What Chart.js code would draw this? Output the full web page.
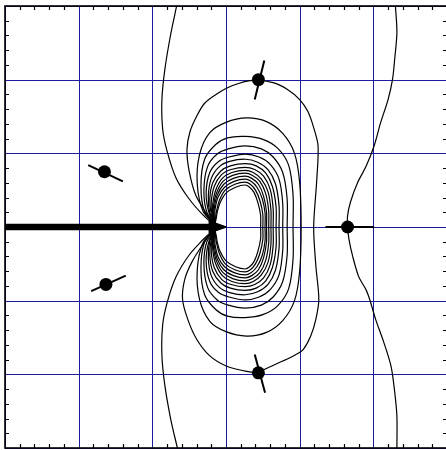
<!DOCTYPE html>
<html>
<head>
<meta charset="utf-8">
<script src="https://cdn.jsdelivr.net/npm/chart.js@4.4.1/dist/chart.umd.min.js"></script>
<style>
  html, body { margin: 0; padding: 0; background: #fff; overflow: hidden; }
  #wrap { width: 446px; height: 450px; }
  canvas { display: block; }
</style>
</head>
<body>
<div id="wrap"><canvas id="c" width="446" height="450"></canvas></div>
<script>
// Axis ticks (major grid every unit, minor ticks every 0.2)
const xTicks = [-3, -2, -1, 0, 1, 2, 3];
const yTicks = [-3, -2, -1, 0, 1, 2, 3];
const minorPerMajor = 5;

// Outer contour on the left, running from the top edge through the tip to the bottom edge
const contourOuterLeft = [
  [-0.67, 3.0], [-0.75, 2.62], [-0.83, 2.14], [-0.87, 1.73], [-0.86, 1.33], [-0.80, 1.03],
  [-0.68, 0.67], [-0.50, 0.38], [-0.31, 0.16], [-0.17, 0.03],
  [-0.17, -0.03], [-0.31, -0.17], [-0.50, -0.38], [-0.68, -0.68], [-0.80, -1.03],
  [-0.86, -1.33], [-0.87, -1.74], [-0.83, -2.15], [-0.75, -2.61], [-0.66, -3.0]
];

// Wavy contour on the right, passing through the right-hand dot
const contourOuterRight = [
  [2.30, 3.0], [2.32, 2.64], [2.29, 2.28], [2.26, 2.0], [2.20, 1.73], [2.10, 1.42],
  [2.01, 1.10], [1.90, 0.82], [1.79, 0.61], [1.69, 0.34], [1.65, 0.15], [1.65, 0],
  [1.67, -0.17], [1.72, -0.40], [1.80, -0.67], [1.90, -0.85], [1.95, -0.98], [2.03, -1.25],
  [2.14, -1.56], [2.24, -1.89], [2.29, -2.24], [2.32, -2.57], [2.32, -3.0]
];

// Loop through the upper and lower dots
const contourDotLoop = [
  [-0.17, 0.02], [-0.27, 0.19], [-0.41, 0.43], [-0.50, 0.76], [-0.53, 1.05], [-0.49, 1.29],
  [-0.40, 1.50], [-0.29, 1.68], [-0.12, 1.81], [0.09, 1.92], [0.36, 1.99], [0.64, 1.96],
  [0.83, 1.87], [1.00, 1.73], [1.11, 1.57], [1.19, 1.35], [1.25, 1.10], [1.23, 0.61],
  [1.19, 0.0], [1.22, -0.53], [1.26, -0.98], [1.22, -1.25], [1.15, -1.48], [1.05, -1.66],
  [0.95, -1.73], [0.77, -1.82], [0.59, -1.90], [0.43, -1.97], [0.28, -1.96], [0.01, -1.89],
  [-0.22, -1.75], [-0.40, -1.52], [-0.52, -1.25], [-0.59, -0.98], [-0.56, -0.71],
  [-0.46, -0.47], [-0.31, -0.23], [-0.17, -0.03]
];

// Nested inner loops, outermost first
const contourInner2 = [
  [-0.15, 0.04], [-0.31, 0.21], [-0.39, 0.58], [-0.36, 0.98], [-0.22, 1.28], [0.0, 1.42], [0.28, 1.48],
  [0.55, 1.43], [0.77, 1.27], [0.93, 1.0], [1.0, 0.6], [1.02, 0],
  [1.0, -0.6], [0.93, -1.0], [0.77, -1.27], [0.55, -1.43], [0.28, -1.48], [0.0, -1.42],
  [-0.22, -1.28], [-0.36, -0.98], [-0.39, -0.58], [-0.31, -0.21], [-0.15, -0.04]
];
const contourInner3 = [
  [-0.15, 0.04], [-0.29, 0.20], [-0.34, 0.56], [-0.29, 0.92], [-0.14, 1.12], [0.02, 1.21], [0.26, 1.23],
  [0.50, 1.19], [0.70, 1.07], [0.85, 0.84], [0.91, 0.44], [0.91, 0],
  [0.91, -0.44], [0.85, -0.84], [0.70, -1.07], [0.50, -1.19], [0.26, -1.23], [0.02, -1.21],
  [-0.14, -1.12], [-0.29, -0.92], [-0.34, -0.56], [-0.29, -0.20], [-0.15, -0.04]
];
const contourInner4 = [
  [-0.15, 0.04], [-0.26, 0.20], [-0.30, 0.50], [-0.25, 0.82], [-0.12, 0.99], [0.03, 1.06], [0.26, 1.10],
  [0.48, 1.06], [0.64, 0.95], [0.77, 0.74], [0.83, 0.38], [0.83, 0],
  [0.83, -0.38], [0.77, -0.74], [0.64, -0.95], [0.48, -1.06], [0.26, -1.10], [0.03, -1.06],
  [-0.12, -0.99], [-0.25, -0.82], [-0.30, -0.50], [-0.26, -0.20], [-0.15, -0.04]
];
const contourInner5 = [
  [-0.15, 0.04], [-0.23, 0.19], [-0.27, 0.46], [-0.22, 0.74], [-0.10, 0.89], [0.04, 0.95], [0.26, 0.99],
  [0.45, 0.95], [0.60, 0.85], [0.72, 0.65], [0.77, 0.32], [0.77, 0],
  [0.77, -0.32], [0.72, -0.65], [0.60, -0.85], [0.45, -0.95], [0.26, -0.99], [0.04, -0.95],
  [-0.10, -0.89], [-0.22, -0.74], [-0.27, -0.46], [-0.23, -0.19], [-0.15, -0.04]
];
const contourInner6 = [
  [-0.15, 0.04], [-0.22, 0.19], [-0.24, 0.42], [-0.20, 0.66], [-0.09, 0.82], [0.05, 0.89], [0.26, 0.92],
  [0.43, 0.88], [0.57, 0.78], [0.67, 0.59], [0.72, 0.29], [0.72, 0],
  [0.72, -0.29], [0.67, -0.59], [0.57, -0.78], [0.43, -0.88], [0.26, -0.92], [0.05, -0.89],
  [-0.09, -0.82], [-0.20, -0.66], [-0.24, -0.42], [-0.22, -0.19], [-0.15, -0.04]
];
const contourInner7 = [
  [-0.15, 0.04], [-0.20, 0.17], [-0.22, 0.38], [-0.18, 0.60], [-0.07, 0.76], [0.06, 0.83], [0.26, 0.86],
  [0.41, 0.83], [0.54, 0.73], [0.63, 0.55], [0.68, 0.27], [0.68, 0],
  [0.68, -0.27], [0.63, -0.55], [0.54, -0.73], [0.41, -0.83], [0.26, -0.86], [0.06, -0.83],
  [-0.07, -0.76], [-0.18, -0.60], [-0.22, -0.38], [-0.20, -0.17], [-0.15, -0.04]
];
const contourInner8 = [
  [-0.15, 0.04], [-0.19, 0.17], [-0.20, 0.34], [-0.16, 0.55], [-0.06, 0.71], [0.07, 0.78], [0.26, 0.81],
  [0.39, 0.78], [0.51, 0.69], [0.60, 0.51], [0.64, 0.25], [0.64, 0],
  [0.64, -0.25], [0.60, -0.51], [0.51, -0.69], [0.39, -0.78], [0.26, -0.81], [0.07, -0.78],
  [-0.06, -0.71], [-0.16, -0.55], [-0.20, -0.34], [-0.19, -0.17], [-0.15, -0.04]
];
const contourInner9 = [
  [-0.15, 0.04], [-0.18, 0.16], [-0.18, 0.31], [-0.14, 0.50], [-0.05, 0.66], [0.08, 0.74], [0.26, 0.77],
  [0.37, 0.74], [0.48, 0.65], [0.57, 0.48], [0.61, 0.23], [0.61, 0],
  [0.61, -0.23], [0.57, -0.48], [0.48, -0.65], [0.37, -0.74], [0.26, -0.77], [0.08, -0.74],
  [-0.05, -0.66], [-0.14, -0.50], [-0.18, -0.31], [-0.18, -0.16], [-0.15, -0.04]
];
const contourInner10 = [
  [-0.15, 0.04], [-0.17, 0.16], [-0.17, 0.28], [-0.13, 0.46], [-0.04, 0.62], [0.09, 0.70], [0.26, 0.73],
  [0.36, 0.70], [0.46, 0.62], [0.54, 0.45], [0.58, 0.21], [0.58, 0],
  [0.58, -0.21], [0.54, -0.45], [0.46, -0.62], [0.36, -0.70], [0.26, -0.73], [0.09, -0.70],
  [-0.04, -0.62], [-0.13, -0.46], [-0.17, -0.28], [-0.17, -0.16], [-0.15, -0.04]
];
const contourInner11 = [
  [-0.15, 0.04], [-0.16, 0.15], [-0.16, 0.25], [-0.12, 0.43], [-0.03, 0.58], [0.10, 0.66], [0.26, 0.69],
  [0.35, 0.66], [0.44, 0.58], [0.51, 0.42], [0.55, 0.20], [0.55, 0],
  [0.55, -0.20], [0.51, -0.42], [0.44, -0.58], [0.35, -0.66], [0.26, -0.69], [0.10, -0.66],
  [-0.03, -0.58], [-0.12, -0.43], [-0.16, -0.25], [-0.16, -0.15], [-0.15, -0.04]
];
const contourInner12 = [
  [-0.15, 0.04], [-0.15, 0.15], [-0.15, 0.23], [-0.11, 0.40], [-0.02, 0.54], [0.11, 0.62], [0.26, 0.65],
  [0.34, 0.62], [0.42, 0.54], [0.49, 0.39], [0.53, 0.19], [0.53, 0],
  [0.53, -0.19], [0.49, -0.39], [0.42, -0.54], [0.34, -0.62], [0.26, -0.65], [0.11, -0.62],
  [-0.02, -0.54], [-0.11, -0.40], [-0.15, -0.23], [-0.15, -0.15], [-0.15, -0.04]
];
const contourInner13 = [
  [-0.15, 0.04], [-0.14, 0.13], [-0.13, 0.21], [-0.09, 0.36], [-0.01, 0.50], [0.12, 0.58], [0.26, 0.61],
  [0.33, 0.58], [0.40, 0.50], [0.46, 0.36], [0.50, 0.17], [0.50, 0],
  [0.50, -0.17], [0.46, -0.36], [0.40, -0.50], [0.33, -0.58], [0.26, -0.61], [0.12, -0.58],
  [-0.01, -0.50], [-0.09, -0.36], [-0.13, -0.21], [-0.14, -0.13], [-0.15, -0.04]
];
const contourInner14 = [
  [-0.15, 0.04], [-0.13, 0.13], [-0.12, 0.20], [-0.08, 0.33], [0.0, 0.46], [0.13, 0.54], [0.26, 0.57],
  [0.32, 0.54], [0.38, 0.47], [0.43, 0.34], [0.47, 0.16], [0.47, 0],
  [0.47, -0.16], [0.43, -0.34], [0.38, -0.47], [0.32, -0.54], [0.26, -0.57], [0.13, -0.54],
  [0.0, -0.46], [-0.08, -0.33], [-0.12, -0.20], [-0.13, -0.13], [-0.15, -0.04]
];

// Dots and the short direction bars through them
const dotX = [0.44, 1.65, 0.44, -1.65, -1.63];
const dotY = [2.0, 0.0, -1.98, 0.75, -0.78];
const barStartX = [0.39, 1.35, 0.39, -1.87, -1.83];
const barStartY = [1.73, 0.0, -1.73, 0.84, -0.87];
const barEndX = [0.52, 2.01, 0.53, -1.40, -1.36];
const barEndY = [2.26, 0.0, -2.25, 0.62, -0.66];

// Thick arrow along the negative x axis
const arrowShaft = [[-3.0, 0.0], [-0.20, 0.0]];
const arrowHead = [[-0.23, 0.085], [0.01, 0.0], [-0.23, -0.085], [-0.23, 0.085]];

const pts = arr => arr.map(([x, y]) => ({ x, y }));

const contours = [
  contourOuterLeft, contourOuterRight, contourDotLoop,
  contourInner2, contourInner3, contourInner4, contourInner5, contourInner6, contourInner7,
  contourInner8, contourInner9, contourInner10, contourInner11, contourInner12,
  contourInner13, contourInner14
];

const datasets = [];

// dots on top
datasets.push({
  data: dotX.map((x, i) => ({ x, y: dotY[i] })),
  showLine: false,
  pointRadius: 6.5,
  pointHoverRadius: 6.5,
  pointBackgroundColor: '#000',
  pointBorderColor: '#000',
  pointBorderWidth: 0
});
// direction bars
dotX.forEach((_, i) => {
  datasets.push({
    data: [{ x: barStartX[i], y: barStartY[i] }, { x: barEndX[i], y: barEndY[i] }],
    showLine: true,
    borderColor: '#000',
    borderWidth: 2,
    pointRadius: 0
  });
});
// arrow
datasets.push({
  data: pts(arrowHead),
  showLine: true,
  borderColor: '#000',
  backgroundColor: '#000',
  borderWidth: 1,
  fill: 'shape',
  pointRadius: 0
});
datasets.push({
  data: pts(arrowShaft),
  showLine: true,
  borderColor: '#000',
  borderWidth: 6.5,
  pointRadius: 0
});
// contour lines
contours.forEach(c => {
  datasets.push({
    data: pts(c),
    showLine: true,
    borderColor: '#000',
    borderWidth: 1.2,
    tension: 0.3,
    pointRadius: 0
  });
});

const minorTicks = [];
for (let i = xTicks[0] * minorPerMajor; i <= xTicks[xTicks.length - 1] * minorPerMajor; i++) {
  if (i % minorPerMajor !== 0) minorTicks.push(i / minorPerMajor);
}

const gridColor = '#1c1ca0';
const crisp = v => Math.round(v) + 0.5;

// blue major grid, drawn under the data
const gridPlugin = {
  id: 'majorGrid',
  beforeDatasetsDraw(chart) {
    const { ctx, chartArea: a, scales: { x, y } } = chart;
    ctx.save();
    ctx.strokeStyle = gridColor;
    ctx.lineWidth = 1;
    ctx.beginPath();
    xTicks.forEach(v => {
      const px = crisp(x.getPixelForValue(v));
      ctx.moveTo(px, a.top); ctx.lineTo(px, a.bottom);
    });
    yTicks.forEach(v => {
      const py = crisp(y.getPixelForValue(v));
      ctx.moveTo(a.left, py); ctx.lineTo(a.right, py);
    });
    ctx.stroke();
    ctx.restore();
  }
};

// frame and inward minor ticks on all four sides
const framePlugin = {
  id: 'frameAndTicks',
  afterDatasetsDraw(chart) {
    const { ctx, scales: { x, y } } = chart;
    const left = x.getPixelForValue(xTicks[0]);
    const right = x.getPixelForValue(xTicks[xTicks.length - 1]);
    const top = y.getPixelForValue(yTicks[yTicks.length - 1]);
    const bottom = y.getPixelForValue(yTicks[0]);
    ctx.save();
    ctx.strokeStyle = '#000';
    ctx.lineWidth = 1.2;
    ctx.beginPath();
    const len = 4;
    minorTicks.forEach(v => {
      const px = crisp(x.getPixelForValue(v));
      ctx.moveTo(px, bottom); ctx.lineTo(px, bottom - len);
      ctx.moveTo(px, top); ctx.lineTo(px, top + len);
      const py = crisp(y.getPixelForValue(v));
      ctx.moveTo(left, py); ctx.lineTo(left + len, py);
      ctx.moveTo(right, py); ctx.lineTo(right - len, py);
    });
    ctx.stroke();
    ctx.lineWidth = 1.6;
    ctx.strokeRect(left, top, right - left, bottom - top);
    ctx.restore();
  }
};

// The plot box runs from x=5 to x=447 (its right edge falls just past the 446px canvas)
const boxLeft = 5, boxRight = 447, canvasWidth = 446;
const xMaxVisible = xTicks[0] + (xTicks[xTicks.length - 1] - xTicks[0]) * (canvasWidth - boxLeft) / (boxRight - boxLeft);

new Chart(document.getElementById('c'), {
  type: 'scatter',
  data: { datasets },
  options: {
    responsive: false,
    maintainAspectRatio: false,
    devicePixelRatio: 1,
    animation: false,
    events: [],
    layout: { autoPadding: false, padding: { left: boxLeft, top: 6, right: 0, bottom: 2 } },
    plugins: { legend: { display: false }, tooltip: { enabled: false } },
    scales: {
      x: { type: 'linear', display: false, min: xTicks[0], max: xMaxVisible },
      y: { type: 'linear', display: false, min: yTicks[0], max: yTicks[yTicks.length - 1] }
    }
  },
  plugins: [gridPlugin, framePlugin]
});
</script>
</body>
</html>
